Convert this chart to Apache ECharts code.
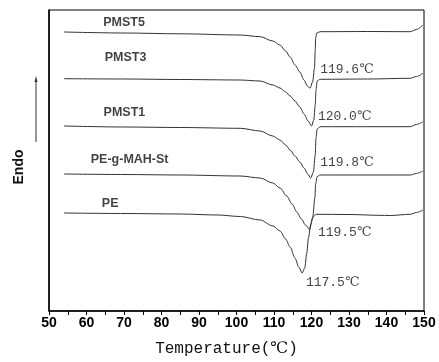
<!DOCTYPE html>
<html>
<head>
<meta charset="utf-8">
<script src="https://cdn.jsdelivr.net/npm/echarts@6/dist/echarts.min.js"></script>
<style>
  html, body { margin: 0; padding: 0; background: #fff; }
  #main { width: 439px; height: 362px; }
</style>
</head>
<body>
<div id="main"></div>
<script>
// DSC curves, temperature (C) and heat flow (a.u.)
var pmst5T = [54, 70, 85, 101, 106.3, 109.7, 111.6, 113.1, 114.3, 115.6, 116.9, 118.0, 118.9, 119.6, 120.3, 120.8, 121.0, 121.1, 121.4, 122.3, 135, 146.3, 148, 149.7];
var pmst5V = [279, 278, 277.2, 276, 274.3, 270, 266, 260, 254, 246, 239, 231, 225, 222.7, 229, 243, 261, 273, 278, 279.3, 279.5, 279.3, 281.5, 286];

var pmst3T = [54, 70, 85, 101, 106.3, 109.7, 111.6, 113.1, 114.3, 115.6, 116.9, 118.0, 119.1, 120.0, 120.6, 121.0, 121.2, 121.5, 122.3, 135, 146.3, 148, 149.7];
var pmst3V = [232.3, 232, 231.5, 231, 230, 226, 223, 219, 215, 210, 204, 197, 190, 185, 191, 206, 221, 230, 231.7, 232, 232.7, 234.5, 237.7];

var pmst1T = [54, 70, 85, 101, 106.3, 109.7, 111.6, 113.1, 114.3, 115.6, 116.9, 118.0, 119.0, 119.8, 120.5, 121.0, 121.2, 121.5, 122.3, 135, 146.3, 148, 149.7];
var pmst1V = [185, 184, 183.5, 182.7, 180, 175, 171, 166, 161, 155, 149, 143, 137, 133, 139, 156, 173, 182, 184.3, 184.3, 184.3, 186.5, 189.3];

var pegT = [54, 70, 85, 101, 106.3, 109.7, 111.6, 113.4, 114.8, 116.1, 117.3, 118.4, 119.5, 120.3, 120.9, 121.1, 121.5, 122.3, 135, 146.3, 148, 149.7];
var pegV = [137, 136.5, 136, 135, 133, 128, 123, 115, 107, 99, 92, 86, 81.5, 93, 113, 127, 134.5, 136, 136, 136, 137.5, 140];

var peT = [54, 70, 85, 95, 101, 106.3, 109.7, 111.6, 113.1, 114.3, 115.6, 116.6, 117.5, 118.2, 118.7, 119.2, 119.8, 120.4, 121.2, 130, 138, 141, 146.3, 148, 149.7];
var peV = [98, 97.5, 97, 96, 94.5, 91, 85, 80, 72, 64, 53, 44, 38, 43, 57, 73, 87, 94, 96.7, 96.5, 95.7, 95.5, 96.7, 98.5, 101];

// sample names and where they sit
var sampleNames = ['PMST5', 'PMST3', 'PMST1', 'PE-g-MAH-St', 'PE'];
var nameLabelT = [70, 70.4, 70.1, 71.5, 66.3];
var nameLabelV = [288, 253, 198, 151, 107];

// peak temperatures
var peakTexts = ['119.6\u2103', '120.0\u2103', '119.8\u2103', '119.5\u2103', '117.5\u2103'];
var peakLabelT = [122.3, 121.7, 122.3, 121.7, 118.5];
var peakLabelV = [241, 194, 148, 78, 28];

function zip(xs, ys) {
  var res = [];
  for (var i = 0; i < xs.length; i++) res.push([xs[i], ys[i]]);
  return res;
}

var curves = [
  [pmst5T, pmst5V],
  [pmst3T, pmst3V],
  [pmst1T, pmst1V],
  [pegT, pegV],
  [peT, peV]
];

var series = curves.map(function (c, i) {
  return {
    name: sampleNames[i],
    type: 'line',
    data: zip(c[0], c[1]),
    showSymbol: false,
    smooth: 0.3,
    smoothMonotone: 'x',
    lineStyle: { color: '#333', width: 1 },
    silent: true
  };
});

series.push({
  type: 'scatter',
  symbolSize: 0,
  silent: true,
  data: sampleNames.map(function (n, i) {
    return { name: n, value: [nameLabelT[i], nameLabelV[i]] };
  }),
  label: {
    show: true,
    position: 'inside',
    formatter: '{b}',
    color: '#111',
    fontFamily: "'Liberation Sans', Arial, sans-serif",
    fontWeight: 'bold',
    fontSize: 12.5
  }
});

series.push({
  type: 'scatter',
  symbolSize: 0,
  silent: true,
  data: peakTexts.map(function (t, i) {
    return { name: t, value: [peakLabelT[i], peakLabelV[i]] };
  }),
  label: {
    show: true,
    position: 'right',
    distance: 0,
    formatter: '{b}',
    color: '#111',
    fontFamily: "'Liberation Mono', 'DejaVu Serif', 'Noto Sans CJK SC', monospace",
    fontSize: 13
  }
});

var myChart = echarts.init(document.getElementById('main'));
myChart.setOption({
  animation: false,
  backgroundColor: '#fff',
  grid: {
    left: 49, right: 15, top: 10, bottom: 51,
    show: true,
    borderColor: '#000',
    borderWidth: 1
  },
  xAxis: {
    type: 'value',
    min: 50,
    max: 150,
    interval: 10,
    name: 'Temperature(\u2103)',
    nameLocation: 'middle',
    nameGap: 30,
    nameTextStyle: {
      color: '#111',
      fontFamily: "'Liberation Mono', 'DejaVu Serif', monospace",
      fontSize: 16,
      padding: [0, 20, 0, 0]
    },
    axisLine: { lineStyle: { color: '#000', width: 1.5 } },
    axisTick: { show: true, inside: false, length: 4, lineStyle: { color: '#000' } },
    minorTick: { show: true, splitNumber: 2, length: 4, lineStyle: { color: '#000' } },
    axisLabel: {
      color: '#000',
      fontFamily: "'Liberation Sans', Arial, sans-serif",
      fontWeight: 'bold',
      fontSize: 14,
      margin: 5
    },
    splitLine: { show: false }
  },
  yAxis: {
    type: 'value',
    min: 0,
    max: 301,
    name: 'Endo',
    nameLocation: 'middle',
    nameGap: 23,
    nameTextStyle: {
      color: '#111',
      fontFamily: "'Liberation Sans', Arial, sans-serif",
      fontWeight: 'bold',
      fontSize: 14,
      padding: [0, 13, 0, 0]
    },
    axisLine: { show: true, lineStyle: { color: '#000', width: 1.5 } },
    axisTick: { show: false },
    axisLabel: { show: false },
    splitLine: { show: false }
  },
  graphic: [
    {
      type: 'line',
      shape: { x1: 36, y1: 142, x2: 36, y2: 80 },
      style: { stroke: '#333', lineWidth: 1 }
    },
    {
      type: 'polygon',
      shape: { points: [[36, 76], [34.5, 82], [37.5, 82]] },
      style: { fill: '#333' }
    }
  ],
  series: series
});
</script>
</body>
</html>
